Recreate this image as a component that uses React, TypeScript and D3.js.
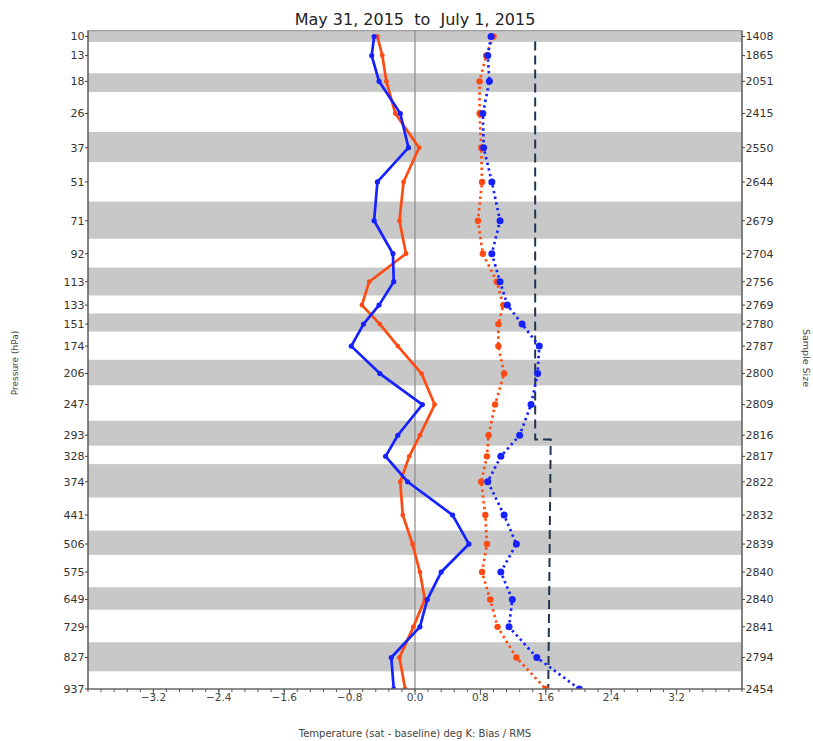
import React from "react";
import * as d3 from "d3";

const title = "May 31, 2015  to  July 1, 2015";
const xLabel = "Temperature (sat - baseline) deg K: Bias / RMS";
const yLabel = "Pressure (hPa)";
const y2Label = "Sample Size";

const levels = [10, 13, 18, 26, 37, 51, 71, 92, 113, 133, 151, 174, 206, 247, 293, 328, 374, 441, 506, 575, 649, 729, 827, 937];
const sampleSize = [1408, 1865, 2051, 2415, 2550, 2644, 2679, 2704, 2756, 2769, 2780, 2787, 2800, 2809, 2816, 2817, 2822, 2832, 2839, 2840, 2840, 2841, 2794, 2454];

const blueBias = [-0.50, -0.53, -0.44, -0.18, -0.08, -0.46, -0.50, -0.27, -0.26, -0.44, -0.63, -0.78, -0.43, 0.09, -0.21, -0.36, -0.09, 0.46, 0.66, 0.32, 0.15, 0.06, -0.29, -0.26];
const orangeBias = [-0.46, -0.40, -0.35, -0.24, 0.05, -0.14, -0.19, -0.11, -0.56, -0.65, -0.43, -0.21, 0.08, 0.24, 0.06, -0.07, -0.18, -0.15, -0.03, 0.06, 0.12, -0.02, -0.19, -0.12];
const blueRms = [0.93, 0.89, 0.91, 0.83, 0.84, 0.94, 1.04, 0.94, 1.04, 1.13, 1.31, 1.52, 1.50, 1.42, 1.28, 1.05, 0.89, 1.09, 1.24, 1.05, 1.19, 1.15, 1.49, 2.01];
const orangeRms = [0.96, 0.87, 0.79, 0.79, 0.81, 0.82, 0.77, 0.83, 1.00, 1.08, 1.02, 1.02, 1.09, 0.98, 0.90, 0.88, 0.81, 0.86, 0.88, 0.82, 0.92, 1.01, 1.24, 1.60];

// gray layer bands (pressure bounds)
const bandTop = [9.2, 16.3, 31.6, 60.5, 102, 140.7, 189.5, 270.5, 341.6, 475, 615, 777];
const bandBottom = [10.8, 20.4, 42.5, 82, 124.5, 158.5, 221, 310, 404.6, 532, 678, 874];

// dashed threshold line
const threshP = [10, 300, 300, 937];
const threshV = [1.47, 1.47, 1.66, 1.63];

const xTicks = [-3.2, -2.4, -1.6, -0.8, 0.0, 0.8, 1.6, 2.4, 3.2];
const xMinorStep = 0.16;
const xDomain = [-4, 4];
const pDomain = [9.2, 937];

const W = 813, H = 741;
const L = 88, R = 742, T = 30.7, B = 689;

const ORANGE = "#ff4a12";
const BLUE = "#1522ff";
const FONT = "DejaVu Sans, sans-serif";

export default function App() {
  const x = d3.scaleLinear().domain(xDomain).range([L, R]);
  const y = d3.scalePow().exponent(2 / 7).domain(pDomain).range([T, B]);

  const mk = (vals: number[]) =>
    d3.line<number>().x((v) => x(v)).y((_, i) => y(levels[i]))(vals) || "";
  const thrPath =
    d3.line<number>().x((v) => x(v)).y((_, i) => y(threshP[i]))(threshV) || "";

  const minor: number[] = [];
  for (let k = 0; k <= Math.round((xDomain[1] - xDomain[0]) / xMinorStep); k++) {
    minor.push(xDomain[0] + k * xMinorStep);
  }

  const series = [
    { vals: orangeRms, color: ORANGE, dotted: true, r: 3.2 },
    { vals: blueRms, color: BLUE, dotted: true, r: 3.5 },
    { vals: orangeBias, color: ORANGE, dotted: false, r: 2.4 },
    { vals: blueBias, color: BLUE, dotted: false, r: 2.6 },
  ];

  return (
    <svg
      width={W}
      height={H}
      style={{ position: "absolute", left: 0, top: 0, background: "#fff" }}
      fontFamily={FONT}
    >
      <defs>
        <clipPath id="plotclip">
          <rect x={L} y={T} width={R - L} height={B - T} />
        </clipPath>
      </defs>
      <rect x={0} y={0} width={W} height={H} fill="#fff" />
      {bandTop.map((p, i) => (
        <rect
          key={"b" + i}
          x={L}
          width={R - L}
          y={y(p)}
          height={y(bandBottom[i]) - y(p)}
          fill="#c8c8c8"
        />
      ))}
      <line x1={x(0)} x2={x(0)} y1={T} y2={B} stroke="#8a8a8a" strokeWidth={1.2} />
      <g clipPath="url(#plotclip)">
        <path
          d={thrPath}
          fill="none"
          stroke="#1e3553"
          strokeWidth={2}
          strokeDasharray="9,5"
          strokeDashoffset={9}
        />
        {series.map((s, si) => (
          <g key={"s" + si}>
            <path
              d={mk(s.vals)}
              fill="none"
              stroke={s.color}
              strokeWidth={2.7}
              strokeDasharray={s.dotted ? "2.4,3.4" : undefined}
              strokeLinejoin="round"
            />
            {s.vals.map((v, i) => (
              <circle key={i} cx={x(v)} cy={y(levels[i])} r={s.r} fill={s.color} />
            ))}
          </g>
        ))}
      </g>
      {/* frame */}
      <rect x={L} y={T} width={R - L} height={B - T} fill="none" stroke="#8c8c8c" strokeWidth={1} />
      <line x1={L} x2={L} y1={T} y2={B} stroke="#555" strokeWidth={1.2} />
      <line x1={R} x2={R} y1={T} y2={B} stroke="#555" strokeWidth={1.2} />
      <line x1={L} x2={R} y1={B} y2={B} stroke="#555" strokeWidth={1.2} />

      {/* left axis */}
      {levels.map((p, i) => (
        <g key={"yl" + i}>
          <line x1={L - 3} x2={L} y1={y(p)} y2={y(p)} stroke="#444" />
          <text x={L - 3.5} y={y(p)} dy="0.35em" textAnchor="end" fontSize={11} fill="#333">
            {p}
          </text>
        </g>
      ))}
      {/* right axis */}
      {levels.map((p, i) => (
        <g key={"yr" + i}>
          <line x1={R} x2={R + 3} y1={y(p)} y2={y(p)} stroke="#444" />
          <text x={R + 3.5} y={y(p)} dy="0.35em" textAnchor="start" fontSize={11} fill="#333">
            {sampleSize[i]}
          </text>
        </g>
      ))}
      {/* bottom axis */}
      {minor.map((v, i) => (
        <line key={"mn" + i} x1={x(v)} x2={x(v)} y1={B} y2={B + 3} stroke="#555" />
      ))}
      {xTicks.map((v, i) => (
        <g key={"xt" + i}>
          <text x={x(v)} y={B + 11.5} textAnchor="middle" fontSize={10.5} fill="#444">
            {d3.format(".1f")(v)}
          </text>
          <line x1={x(v)} x2={x(v)} y1={B} y2={B + 6} stroke="#555" />
        </g>
      ))}

      <text
        x={(L + R) / 2}
        y={25}
        textAnchor="middle"
        fontSize={16}
        fill="#222"
        style={{ whiteSpace: "pre" }}
      >
        {title}
      </text>
      <text x={(L + R) / 2} y={737} textAnchor="middle" fontSize={10} fill="#444">
        {xLabel}
      </text>
      <text
        transform={`translate(18,363) rotate(-90)`}
        textAnchor="middle"
        fontSize={9}
        fill="#444"
      >
        {yLabel}
      </text>
      <text
        transform={`translate(803,358) rotate(90)`}
        textAnchor="middle"
        fontSize={9.5}
        fill="#444"
      >
        {y2Label}
      </text>
    </svg>
  );
}
